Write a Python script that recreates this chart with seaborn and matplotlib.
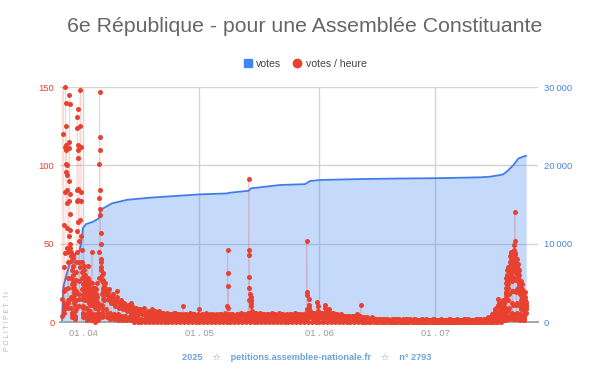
import pandas as pd
import matplotlib
matplotlib.use("Agg")
import matplotlib.pyplot as plt
import seaborn as sns
from matplotlib.lines import Line2D

# Colours (Google-chart like)
RED = "#e8412f"
BLUE = "#4285f4"

TITLE = "6e République - pour une Assemblée Constituante"
FOOTER = "2025    \u2606    petitions.assemblee-nationale.fr    \u2606    n° 2793"

# cumulative votes
votes_dates = [
    "2025-03-26 14:00", "2025-03-26 16:00", "2025-03-26 22:00", "2025-03-27 19:00",
    "2025-03-28 15:00", "2025-03-29 12:00", "2025-03-30 05:00", "2025-03-30 23:00",
    "2025-03-31 12:00", "2025-04-01 00:00", "2025-04-01 19:00", "2025-04-03 14:00",
    "2025-04-05 03:00", "2025-04-05 12:00", "2025-04-06 04:00", "2025-04-08 12:00",
    "2025-04-12 10:00", "2025-04-18 07:00", "2025-05-01 00:00", "2025-05-08 09:00",
    "2025-05-08 13:00", "2025-05-13 20:00", "2025-05-14 08:00", "2025-05-21 21:00",
    "2025-05-28 09:00", "2025-05-29 16:00", "2025-06-01 06:00", "2025-06-11 14:00",
    "2025-06-21 22:00", "2025-07-01 12:00", "2025-07-12 14:00", "2025-07-15 04:00",
    "2025-07-17 00:00", "2025-07-18 14:00", "2025-07-19 22:00", "2025-07-21 05:00",
    "2025-07-22 12:00", "2025-07-24 12:00",
]
votes_total = [
    0, 1500, 4500, 6200, 7500, 8300, 8750, 8850, 10000, 12000, 12500, 12800,
    13250, 14100, 14500, 15150, 15600, 15870, 16290, 16420, 16480, 16760, 17060,
    17490, 17600, 18000, 18130, 18250, 18320, 18360, 18470, 18550, 18700, 18850,
    19400, 20040, 20890, 21230,
]

# votes per hour - launch period, hourly, one row per day
launch_start = "2025-03-26 14:00"
vph_launch = [
    4, 15, 320, 610, 540, 480, 420, 350, 260, 120, 62, 35, 20, 12, 8, 6, 10, 21, 44, 83, 112, 150, 140, 101,
    125, 113, 96, 110, 94, 100, 76, 84, 60, 47, 38, 22, 14, 9, 12, 28, 45, 55, 77, 90, 115, 111, 145, 139,
    82, 69, 59, 50, 47, 42, 45, 39, 28, 16, 9, 5, 3, 6, 15, 24, 33, 41, 36, 43, 30, 27, 22, 25,
    19, 24, 17, 12, 22, 15, 18, 11, 7, 4, 2, 3, 8, 14, 20, 27, 32, 38, 45, 58, 77, 84, 124, 131,
    136, 113, 110, 105, 85, 78, 64, 52, 38, 26, 15, 10, 18, 35, 65, 125, 148, 190, 230, 210, 160, 112, 83, 77,
    55, 46, 38, 32, 28, 21, 15, 9, 5, 3, 6, 10, 17, 24, 30, 36, 28, 33, 25, 20, 23, 18, 26, 14,
    24, 30, 21, 27, 17, 22, 14, 9, 5, 2, 1, 4, 8, 15, 23, 19, 36, 18, 22, 28, 16, 21, 12, 25,
    19, 26, 15, 22, 18, 14, 11, 7, 4, 1, 2, 5, 12, 20, 16, 25, 14, 19, 45, 15, 18, 11, 22, 17,
    14, 21, 17, 12, 19, 15, 10, 5, 3, 1, 0, 4, 9, 17, 12, 22, 15, 18, 11, 21, 14, 17, 25, 12,
    13, 11, 16, 9, 12, 8, 6, 3, 2, 1, 2, 5, 10, 28, 45, 79, 101, 147, 118, 110, 84, 72, 68, 57,
    50, 40, 35, 33, 38, 30, 26, 18, 11, 6, 3, 4, 8, 15, 22, 27, 31, 20, 25, 17, 24, 19, 14, 21,
]

# decay after launch, every 3 hours
decay_start = "2025-04-06 14:00"
vph_decay = [
    22, 25, 18, 8, 3, 6, 15, 19,
    17, 21, 14, 6, 2, 4, 12, 16,
    15, 18, 12, 5, 2, 3, 10, 14,
    13, 16, 20, 5, 1, 3, 9, 12,
    11, 14, 10, 4, 1, 2, 8, 11,
    10, 12, 9, 4, 1, 2, 7, 10,
    9, 11, 8, 3, 1, 2, 6, 12,
    8, 10, 7, 3, 0, 1, 6, 9,
    7, 9, 6, 3, 0, 1, 5, 8,
    6, 8, 6, 2, 0, 1, 5, 7,
    6, 9, 5, 2, 0, 1, 4, 6,
    5, 7, 5, 2, 0, 1, 4, 6,
    6, 8, 4, 2, 0, 1, 3, 5,
    5, 7, 4, 1, 0, 1, 3, 5,
]

# calm period, every 3 hours, one string of digits per day
calm_start = "2025-04-20 14:00"
vph_calm = [
    "57420346", "46320245", "56420235", "45310246", "36420235", "45320344", "54210235", "45320234",
    "36310245", "45420234", "54380234",
    "45320245", "46310234", "35420235", "44320244", "54310235", "45420234", "36320345", "45310245",
    "54320234", "45420235", "36310244", "45320235", "56430245", "57420346", "56320245", "46420235",
    "45320244", "55310235", "46320245", "45420234", "36310235", "45320244", "54320235", "45310234",
    "46420245", "35320234", "45310245", "56420345", "67530356", "56420245", "57430356",
    "56420345", "57430245", "56420345", "46320235", "45420234", "35320234", "34310234", "44320224",
    "34210234", "45320234", "23200112", "23100123", "22100112", "23210112", "12100112", "22100102",
    "12100112", "21100011", "12100112", "22000112", "12100101", "21100112", "12000111", "21100102",
    "12100011", "11000112", "21100101", "12000111", "11100102", "21000111",
    "11000101", "21000111", "11000102", "12000101", "11000111", "21000101", "11000112", "12000101",
    "21000111", "11000102", "12100112", "21000111", "22100112", "23100123",
]

# isolated hourly bursts
burst_times = [
    "2025-04-26 20:00",
    "2025-05-08 08:00", "2025-05-08 09:00", "2025-05-08 10:00", "2025-05-08 11:00", "2025-05-08 12:00",
    "2025-05-13 19:00", "2025-05-13 20:00", "2025-05-13 21:00", "2025-05-13 22:00", "2025-05-13 23:00",
    "2025-05-14 00:00", "2025-05-14 01:00", "2025-05-14 07:00", "2025-05-14 09:00", "2025-05-14 10:00",
    "2025-05-14 12:00",
    "2025-05-28 19:00", "2025-05-28 20:00", "2025-05-28 21:00", "2025-05-28 22:00", "2025-05-29 09:00",
    "2025-05-29 10:00", "2025-05-29 12:00",
    "2025-05-31 10:00", "2025-05-31 15:00", "2025-06-02 12:00", "2025-06-02 15:00", "2025-06-03 12:00",
    "2025-06-11 19:00",
]
burst_values = [
    10,
    10, 46, 31, 23, 9,
    14, 91, 46, 43, 29, 22, 18, 16, 14, 10, 12,
    8, 52, 19, 17, 15, 11, 9,
    13, 10, 11, 9, 8,
    11,
]

# final relaunch, hourly
final_start = "2025-07-15 14:00"
vph_final = [
    2, 4, 3, 5, 1, 0, 0, 1, 0, 0, 0, 2, 3, 5, 4, 6, 3, 5, 7, 4, 6, 3, 5, 8,
    6, 9, 5, 7, 4, 8, 3, 2, 1, 0, 1, 0, 2, 4, 7, 10, 15, 8, 11, 6, 9, 12, 7, 10,
    8, 6, 11, 9, 5, 7, 10, 4, 2, 1, 0, 1, 3, 6, 9, 12, 8, 13, 7, 10, 6, 11, 9, 14,
    11, 8, 13, 10, 7, 12, 9, 5, 3, 1, 1, 2, 5, 9, 14, 18, 22, 16, 25, 19, 28, 21, 17, 24,
    30, 26, 33, 28, 22, 35, 24, 14, 7, 3, 2, 4, 9, 18, 27, 36, 31, 42, 38, 29, 34, 45, 40, 33,
    37, 31, 44, 28, 35, 26, 20, 12, 6, 3, 2, 5, 11, 20, 29, 38, 46, 33, 41, 35, 49, 39, 44, 36,
    70, 52, 43, 38, 31, 27, 19, 11, 5, 2, 3, 6, 12, 21, 32, 40, 35, 29, 37, 31, 26, 34, 28, 23,
    27, 33, 25, 30, 21, 26, 18, 10, 5, 2, 1, 3, 8, 14, 20, 26, 22, 17, 24, 19, 15, 21, 16, 12,
    18, 14, 20, 16, 11, 17, 13, 7, 3, 1, 1, 2, 5, 9, 14, 19, 12, 16, 10, 13, 8, 11, 6, 9,
]

month_ticks = ["2025-04-01", "2025-05-01", "2025-06-01", "2025-07-01"]
month_labels = ["01 . 04", "01 . 05", "01 . 06", "01 . 07"]
vph_ticks = [0, 50, 100, 150]
votes_ticks = [0, 10000, 20000, 30000]
votes_tick_labels = ["0", "10\u2009000", "20\u2009000", "30\u2009000"]

# --- build frames ---
cum = pd.DataFrame({"time": pd.to_datetime(votes_dates), "votes": votes_total})

calm_vals = [int(c) for day in vph_calm for c in day]
parts = [
    pd.DataFrame({"time": pd.date_range(launch_start, periods=len(vph_launch), freq="h"), "vph": vph_launch}),
    pd.DataFrame({"time": pd.date_range(decay_start, periods=len(vph_decay), freq="3h"), "vph": vph_decay}),
    pd.DataFrame({"time": pd.date_range(calm_start, periods=len(calm_vals), freq="3h"), "vph": calm_vals}),
    pd.DataFrame({"time": pd.to_datetime(burst_times), "vph": burst_values}),
    pd.DataFrame({"time": pd.date_range(final_start, periods=len(vph_final), freq="h"), "vph": vph_final}),
]
hourly = pd.concat(parts).sort_values("time").reset_index(drop=True)

# --- plot ---
sns.set_style("white")
plt.rcParams["font.family"] = ["Liberation Sans", "DejaVu Sans"]

fig = plt.figure(figsize=(6.1, 3.78), dpi=100)
ax = fig.add_axes([0.0984, 0.1481, 0.7836, 0.6217])
ax_h = ax.twinx()

# cumulative votes: area + line (right axis)
ax.fill_between(cum["time"], cum["votes"], 0, color=BLUE, alpha=0.3, lw=0, zorder=1)
sns.lineplot(data=cum, x="time", y="votes", ax=ax, color="#3d7ee8", lw=1.3, zorder=2)

# votes per hour (left axis)
sns.lineplot(data=hourly, x="time", y="vph", ax=ax_h, color=RED, lw=0.6, alpha=0.25,
             estimator=None, errorbar=None, zorder=2)
visible = hourly[hourly["vph"] <= 150]
sns.scatterplot(data=visible, x="time", y="vph", ax=ax_h, color=RED, s=13,
                linewidth=0, clip_on=False, zorder=3)

ax.set_xlim(pd.Timestamp("2025-03-26 01:30"), pd.Timestamp("2025-07-27 13:30"))
ax.set_ylim(0, 30000)
ax_h.set_ylim(0, 150)

ax.set_xticks(pd.to_datetime(month_ticks))
ax.set_xticklabels(month_labels)
ax.set_yticks(votes_ticks)
ax.set_yticklabels(votes_tick_labels)
ax_h.set_yticks(vph_ticks)

ax.yaxis.tick_right()
ax_h.yaxis.tick_left()

ax.grid(True, color="#d4d4d4", lw=1.0)
ax.set_axisbelow(True)
ax_h.grid(False)

for a in (ax, ax_h):
    a.set_xlabel("")
    a.set_ylabel("")
    for s in ("top", "left", "right", "bottom"):
        a.spines[s].set_visible(False)
ax.spines["bottom"].set_visible(True)
ax.spines["bottom"].set_color("#a6a6a6")
ax.spines["bottom"].set_linewidth(1.4)

ax.tick_params(axis="x", length=0, pad=5, labelsize=6.8, labelcolor="#9a9a9a")
ax.tick_params(axis="y", length=0, pad=4, labelsize=6.8, labelcolor="#4a82e0")
ax_h.tick_params(axis="y", length=0, pad=4, labelsize=6.8, labelcolor=RED)

# title, legend, footer
fig.text(0.5, 0.931, TITLE, ha="center", va="center", fontsize=15.3, color="#666666")

handles = [
    Line2D([], [], marker="s", color=BLUE, linestyle="none", markersize=6),
    Line2D([], [], marker="o", color=RED, linestyle="none", markersize=6),
]
fig.legend(handles, ["votes", "votes / heure"], loc="center", bbox_to_anchor=(0.499, 0.831),
           ncol=2, frameon=False, fontsize=7.6, handletextpad=0.3, columnspacing=1.0,
           handlelength=1.0, labelcolor="#444444")

fig.text(0.503, 0.053, FOOTER, ha="center", va="center", fontsize=6.6, color="#6fa3dc",
         fontweight="bold")
fig.text(0.012, 0.15, "P O L I T I P E T . f r", rotation=90, ha="center", va="center",
         fontsize=4.9, color="#b5b5b5")

plt.savefig("out.png", dpi=100)
